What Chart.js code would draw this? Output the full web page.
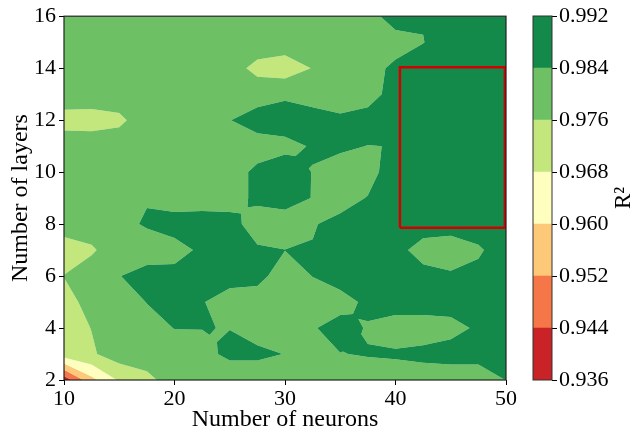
<!DOCTYPE html>
<html>
<head>
<meta charset="utf-8">
<script src="https://cdn.jsdelivr.net/npm/chart.js@4/dist/chart.umd.min.js"></script>
<style>
  body { margin: 0; background: #fff; }
  #wrap { position: relative; width: 632px; height: 437px; overflow: hidden; }
  #main { position: absolute; left: 0; top: 0; }
  #cbar { position: absolute; left: 510px; top: 0; }
</style>
</head>
<body>
<div id="wrap">
  <canvas id="main" width="540" height="437"></canvas>
  <canvas id="cbar" width="122" height="437"></canvas>
</div>
<script>
// grid of the contour plot
const neurons = [10, 12.5, 15, 17.5, 20, 22.5, 25, 27.5, 30, 32.5, 35, 37.5, 40, 42.5, 45, 47.5, 50];
const layers = [2, 3, 4, 5, 6, 7, 8, 9, 10, 11, 12, 13, 14, 15, 16];

// R^2, one row per number of layers (row 0 = 2 layers), one column per neuron count
const r2 = [
  [0.9387, 0.9577, 0.969, 0.974, 0.9795, 0.980, 0.977, 0.978, 0.980, 0.980, 0.980, 0.980, 0.980, 0.980, 0.978, 0.978, 0.9842],   // 2
  [0.9724, 0.975, 0.980, 0.980, 0.980, 0.981, 0.9863, 0.986, 0.9838, 0.980, 0.9838, 0.9845, 0.985, 0.986, 0.988, 0.988, 0.988],  // 3
  [0.972, 0.9762, 0.980, 0.981, 0.9842, 0.9842, 0.9838, 0.980, 0.980, 0.9832, 0.988, 0.9832, 0.980, 0.980, 0.981, 0.9854, 0.988], // 4
  [0.973, 0.9788, 0.980, 0.9842, 0.988, 0.9845, 0.980, 0.980, 0.980, 0.980, 0.980, 0.98625, 0.988, 0.988, 0.988, 0.988, 0.988],  // 5
  [0.9762, 0.980, 0.9838, 0.987, 0.9866, 0.988, 0.9875, 0.9865, 0.980, 0.98417, 0.9887, 0.988, 0.988, 0.9865, 0.985, 0.986, 0.988], // 6
  [0.972, 0.975, 0.9805, 0.980, 0.981, 0.9855, 0.988, 0.9852, 0.9841, 0.9845, 0.988, 0.988, 0.9865, 0.981, 0.980, 0.983, 0.988],  // 7
  [0.980, 0.980, 0.982, 0.9848, 0.9875, 0.988, 0.9875, 0.9795, 0.979, 0.9833, 0.9869, 0.988, 0.988, 0.9876, 0.9873, 0.988, 0.988], // 8
  [0.980, 0.980, 0.980, 0.9835, 0.980, 0.980, 0.980, 0.986, 0.988, 0.9837, 0.980, 0.9845, 0.988, 0.988, 0.988, 0.988, 0.988],    // 9
  [0.980, 0.980, 0.980, 0.980, 0.980, 0.980, 0.980, 0.986, 0.991, 0.9836, 0.980, 0.980, 0.990, 0.988, 0.988, 0.988, 0.988],      // 10
  [0.982, 0.980, 0.980, 0.980, 0.980, 0.980, 0.980, 0.980, 0.9806, 0.985, 0.9855, 0.9838, 0.9842, 0.988, 0.988, 0.988, 0.988],   // 11
  [0.972, 0.973, 0.9745, 0.980, 0.980, 0.980, 0.9838, 0.988, 0.990, 0.988, 0.9854, 0.988, 0.988, 0.988, 0.988, 0.988, 0.988],   // 12
  [0.982, 0.980, 0.980, 0.980, 0.980, 0.980, 0.980, 0.980, 0.982, 0.980, 0.980, 0.980, 0.988, 0.988, 0.988, 0.988, 0.988],       // 13
  [0.980, 0.980, 0.980, 0.980, 0.980, 0.980, 0.979, 0.974, 0.972, 0.9763, 0.980, 0.980, 0.9863, 0.988, 0.988, 0.988, 0.988],     // 14
  [0.980, 0.980, 0.980, 0.980, 0.980, 0.980, 0.980, 0.980, 0.980, 0.980, 0.980, 0.980, 0.9795, 0.9838, 0.988, 0.988, 0.988],     // 15
  [0.980, 0.980, 0.980, 0.980, 0.980, 0.980, 0.980, 0.980, 0.980, 0.980, 0.980, 0.980, 0.989, 0.9845, 0.988, 0.988, 0.988]       // 16
];

// contour levels and their colours (RdYlGn)
const levels = [0.936, 0.944, 0.952, 0.960, 0.968, 0.976, 0.984, 0.992];
const bandColors = ['#c92227', '#f57647', '#fdc878', '#feffbe', '#c3e67d', '#6dc064', '#138a49'];

// highlighted region
const boxNeurons = [40.4, 49.9];
const boxLayers = [7.86, 14.04];

Chart.defaults.font.family = '"Liberation Serif", "Times New Roman", serif';
Chart.defaults.font.size = 22;
Chart.defaults.color = '#000';

// keep the part of a polygon where fn(p) >= 0 (linear along edges)
function clipHalf(poly, fn) {
  const out = [];
  for (let i = 0; i < poly.length; i++) {
    const a = poly[i], b = poly[(i + 1) % poly.length];
    const fa = fn(a), fb = fn(b);
    if (fa >= 0) out.push(a);
    if ((fa >= 0) !== (fb >= 0)) {
      const t = fa / (fa - fb);
      out.push({ x: a.x + t * (b.x - a.x), y: a.y + t * (b.y - a.y), v: a.v + t * (b.v - a.v) });
    }
  }
  return out;
}

// a cell is a saddle for a level when only diagonal corners are above it
function isSaddle(q, lvl) {
  const s = q.map(p => p.v >= lvl);
  return s[0] === s[2] && s[1] === s[3] && s[0] !== s[1];
}

const contourPlugin = {
  id: 'contour',
  beforeDatasetsDraw(chart) {
    const { ctx, chartArea, scales: { x, y } } = chart;
    const px = neurons.map(n => x.getPixelForValue(n));
    const py = layers.map(l => y.getPixelForValue(l));
    const paths = bandColors.map(() => new Path2D());

    const addBands = poly => {
      for (let k = 0; k < bandColors.length; k++) {
        let p = clipHalf(poly, q => q.v - levels[k]);
        if (p.length < 3) continue;
        p = clipHalf(p, q => levels[k + 1] - q.v);
        if (p.length < 3) continue;
        paths[k].moveTo(p[0].x, p[0].y);
        for (let n = 1; n < p.length; n++) paths[k].lineTo(p[n].x, p[n].y);
        paths[k].closePath();
      }
    };

    for (let j = 0; j < layers.length - 1; j++) {
      for (let i = 0; i < neurons.length - 1; i++) {
        const a = { x: px[i], y: py[j], v: r2[j][i] };
        const b = { x: px[i + 1], y: py[j], v: r2[j][i + 1] };
        const c = { x: px[i + 1], y: py[j + 1], v: r2[j + 1][i + 1] };
        const d = { x: px[i], y: py[j + 1], v: r2[j + 1][i] };
        const quad = [a, b, c, d];
        if (levels.some(l => isSaddle(quad, l))) {
          // ambiguous cell: resolve it with the centre value
          const m = { x: (a.x + b.x) / 2, y: (a.y + d.y) / 2, v: (a.v + b.v + c.v + d.v) / 4 };
          [[a, b, m], [b, c, m], [c, d, m], [d, a, m]].forEach(addBands);
        } else {
          addBands(quad);
        }
      }
    }

    ctx.save();
    ctx.beginPath();
    ctx.rect(chartArea.left, chartArea.top, chartArea.right - chartArea.left, chartArea.bottom - chartArea.top);
    ctx.clip();
    paths.forEach((p, k) => {
      ctx.fillStyle = bandColors[k];
      ctx.fill(p);
    });
    ctx.restore();
  }
};

// axes frame on all four sides
const framePlugin = {
  id: 'frame',
  afterDraw(chart) {
    const { ctx, chartArea: a } = chart;
    ctx.save();
    ctx.strokeStyle = '#222';
    ctx.lineWidth = 1.2;
    ctx.strokeRect(a.left, a.top, a.right - a.left, a.bottom - a.top);
    ctx.restore();
  }
};

new Chart(document.getElementById('main'), {
  type: 'scatter',
  data: {
    datasets: [{
      data: [
        { x: boxNeurons[0], y: boxLayers[0] },
        { x: boxNeurons[1], y: boxLayers[0] },
        { x: boxNeurons[1], y: boxLayers[1] },
        { x: boxNeurons[0], y: boxLayers[1] },
        { x: boxNeurons[0], y: boxLayers[0] }
      ],
      showLine: true,
      fill: false,
      borderColor: 'rgb(210, 0, 0)',
      borderWidth: 2.5,
      borderJoinStyle: 'miter',
      pointRadius: 0,
      tension: 0
    }]
  },
  options: {
    responsive: false,
    animation: false,
    devicePixelRatio: 1,
    layout: { padding: { left: 0, top: 16, right: 34, bottom: 0 } },
    plugins: { legend: { display: false }, tooltip: { enabled: false } },
    scales: {
      x: {
        type: 'linear', min: 10, max: 50,
        ticks: { stepSize: 10, padding: 1, maxRotation: 0 },
        grid: { drawOnChartArea: false, tickLength: 5, color: '#000' },
        border: { display: false },
        title: { display: true, text: 'Number of neurons', font: { size: 24 }, padding: { top: 0, bottom: 3 } },
        afterFit: s => { s.height = 57; }
      },
      y: {
        type: 'linear', min: 2, max: 16,
        ticks: { stepSize: 2, padding: 3 },
        grid: { drawOnChartArea: false, tickLength: 5, color: '#000' },
        border: { display: false },
        title: { display: true, text: 'Number of layers', font: { size: 24 }, padding: { top: 6, bottom: 0 } },
        afterFit: s => { s.width = 64; }
      }
    }
  },
  plugins: [contourPlugin, framePlugin]
});

// colour bar
const cbarPlugin = {
  id: 'cbarFrame',
  afterDraw(chart) {
    const { ctx, chartArea: a } = chart;
    ctx.save();
    ctx.strokeStyle = '#333';
    ctx.lineWidth = 1;
    ctx.strokeRect(a.left, a.top, a.right - a.left, a.bottom - a.top);
    ctx.translate(114, (a.top + a.bottom) / 2);
    ctx.rotate(-Math.PI / 2);
    ctx.fillStyle = '#000';
    ctx.font = '23px "Liberation Serif", serif';
    ctx.textAlign = 'center';
    ctx.textBaseline = 'middle';
    ctx.fillText('R²', 0, 0);
    ctx.restore();
  }
};

new Chart(document.getElementById('cbar'), {
  type: 'bar',
  data: {
    labels: ['R2'],
    datasets: bandColors.map((c, k) => ({
      data: [[levels[k], levels[k + 1]]],
      backgroundColor: c,
      borderWidth: 0,
      grouped: false,
      barPercentage: 1,
      categoryPercentage: 1
    }))
  },
  options: {
    responsive: false,
    animation: false,
    devicePixelRatio: 1,
    layout: { padding: { left: 23, top: 16, right: 0, bottom: 57 } },
    plugins: { legend: { display: false }, tooltip: { enabled: false } },
    scales: {
      x: { display: false },
      y: {
        position: 'right',
        min: levels[0], max: levels[levels.length - 1],
        afterBuildTicks: s => { s.ticks = levels.map(v => ({ value: v })); },
        ticks: { padding: 2, callback: v => v.toFixed(3) },
        grid: { drawOnChartArea: false, tickLength: 5, color: '#000' },
        border: { display: false },
        afterFit: s => { s.width = 80; }
      }
    }
  },
  plugins: [cbarPlugin]
});
</script>
</body>
</html>
